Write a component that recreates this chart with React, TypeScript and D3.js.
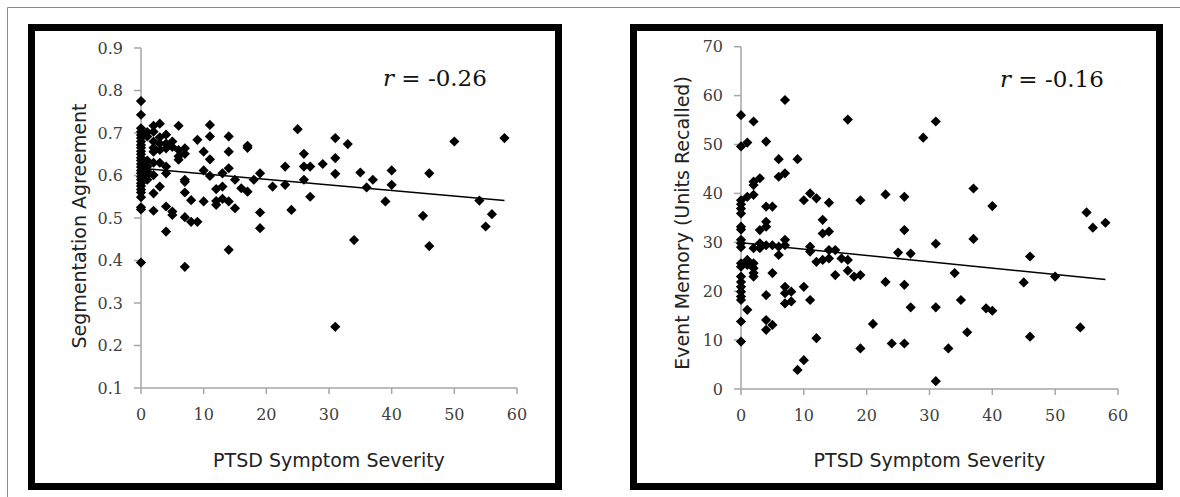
import * as d3 from 'd3';

// PTSD severity (x) and segmentation agreement (y), left panel
const segSeverity = [
  0, 0, 0, 0, 0, 0, 0, 0, 0, 0, 0, 0, 0, 0, 0, 0, 0, 0, 0, 0, 0, 0, 0, 0, 0, 0, 0,
  1, 1, 1, 1, 1, 1, 1,
  2, 2, 2, 2, 2, 2, 2, 2, 2,
  3, 3, 3, 3, 3, 3,
  4, 4, 4, 4, 4, 4, 4,
  5, 5, 5, 5,
  6, 6, 6, 6,
  7, 7, 7, 7, 7, 7, 7,
  8, 8, 9, 9, 10, 10, 10, 11, 11, 11, 11, 12, 12, 12, 13, 13, 13,
  14, 14, 14, 14, 14, 15, 15, 16, 17, 17, 17, 18, 19, 19, 19,
  21, 23, 23, 24, 25, 26, 26, 26, 27, 27, 29, 31, 31, 31, 31,
  33, 34, 35, 36, 37, 39, 40, 40, 45, 46, 46, 50, 54, 55, 56, 58,
];
const segAgreement = [
  0.775, 0.743, 0.711, 0.703, 0.695, 0.688, 0.68, 0.672, 0.665, 0.657, 0.65, 0.642, 0.635, 0.627,
  0.62, 0.612, 0.605, 0.597, 0.59, 0.582, 0.575, 0.567, 0.56, 0.549, 0.525, 0.52, 0.395,
  0.702, 0.692, 0.635, 0.621, 0.61, 0.6, 0.59,
  0.717, 0.703, 0.68, 0.665, 0.656, 0.63, 0.601, 0.558, 0.517,
  0.722, 0.69, 0.675, 0.66, 0.63, 0.574,
  0.696, 0.675, 0.664, 0.621, 0.605, 0.527, 0.468,
  0.68, 0.667, 0.515, 0.507,
  0.717, 0.66, 0.645, 0.637,
  0.664, 0.651, 0.59, 0.585, 0.56, 0.502, 0.385,
  0.542, 0.491, 0.684, 0.491, 0.656, 0.612, 0.539, 0.719, 0.692, 0.638, 0.599, 0.568, 0.54, 0.531,
  0.605, 0.574, 0.545,
  0.692, 0.656, 0.617, 0.539, 0.425, 0.59, 0.523, 0.57, 0.67, 0.665, 0.562, 0.59, 0.605, 0.513, 0.476,
  0.574, 0.621, 0.578, 0.519, 0.709, 0.651, 0.621, 0.59, 0.621, 0.55, 0.627, 0.688, 0.641, 0.604, 0.244,
  0.674, 0.448, 0.607, 0.572, 0.59, 0.539, 0.612, 0.578, 0.505, 0.605, 0.434, 0.68, 0.541, 0.48, 0.509, 0.688,
];

// PTSD severity (x) and event memory units recalled (y), right panel
const memSeverity = [
  0, 0, 0, 0, 0, 0, 0, 0, 0, 0, 0, 0, 0, 0, 0, 0, 0, 0, 0, 0, 0,
  1, 1, 1, 1, 1,
  2, 2, 2, 2, 2, 2, 2, 2, 2,
  3, 3, 3, 3,
  4, 4, 4, 4, 4, 4, 4, 4,
  5, 5, 5, 5,
  6, 6, 6, 6,
  7, 7, 7, 7, 7, 7, 7,
  8, 8, 9, 9, 10, 10, 10, 11, 11, 11, 11, 12, 12, 12, 13, 13, 13,
  14, 14, 14, 14, 15, 15, 16, 17, 17, 17, 18, 19, 19, 19,
  21, 23, 23, 24, 25, 26, 26, 26, 26, 27, 27, 29, 31, 31, 31, 31,
  33, 34, 35, 36, 37, 37, 39, 40, 40, 45, 46, 46, 50, 54, 55, 56, 58,
];
const memRecalled = [
  56.0, 49.6, 38.6, 37.8, 36.9, 35.9, 33.2, 32.6, 30.5, 29.8, 29.0, 25.7, 25.0, 23.0, 21.9, 20.9,
  19.9, 18.9, 18.2, 13.8, 9.7,
  50.4, 39.3, 26.4, 25.4, 16.2,
  54.7, 42.4, 41.7, 39.7, 28.8, 25.7, 24.7, 23.7, 23.0,
  43.1, 32.5, 29.8, 28.8,
  50.6, 37.3, 34.2, 33.2, 29.4, 19.2, 14.1, 12.1,
  37.3, 29.4, 23.7, 13.1,
  47.0, 43.4, 29.1, 27.4,
  59.1, 44.1, 30.5, 29.4, 20.9, 19.6, 17.5,
  19.9, 17.9, 47.0, 3.9, 38.6, 20.9, 5.9, 40.0, 29.1, 28.1, 18.2, 39.0, 26.0, 10.4, 34.6, 31.8, 26.4,
  38.1, 32.2, 28.4, 26.7, 28.4, 23.3, 26.7, 55.1, 26.4, 24.2, 23.0, 38.6, 23.3, 8.3,
  13.3, 39.8, 21.9, 9.3, 27.9, 39.3, 32.5, 21.3, 9.3, 27.7, 16.7, 51.4, 54.7, 29.7, 16.7, 1.6,
  8.3, 23.7, 18.2, 11.6, 41.0, 30.7, 16.5, 37.4, 16.0, 21.8, 27.1, 10.7, 23.0, 12.6, 36.1, 33.0, 34.0,
];

// linear fit end points [x, y]
const segTrend = [[0, 0.617], [58, 0.541]];
const memTrend = [[0, 29.9], [58, 22.4]];

const xTicks = [0, 10, 20, 30, 40, 50, 60];
const segTicks = [0.1, 0.2, 0.3, 0.4, 0.5, 0.6, 0.7, 0.8, 0.9];
const memTicks = [0, 10, 20, 30, 40, 50, 60, 70];

const SERIF = '"DejaVu Serif", serif';
const SANS = '"DejaVu Sans", Verdana, sans-serif';
const AXIS = '#a6a6a6';

const diamond = d3.symbol(d3.symbolSquare, 52)();

function Panel({ frame, plot, xs, ys, yDomain, yTicks, yFormat, trend, yTitle, rText, rPos }) {
  const x = d3.scaleLinear().domain([0, 60]).range([plot.left, plot.right]);
  const y = d3.scaleLinear().domain(yDomain).range([plot.bottom, plot.top]);
  const line = d3.line().x(d => x(d[0])).y(d => y(d[1]));
  return (
    <g>
      <rect x={frame.x} y={frame.y} width={frame.w} height={frame.h} fill="#fff" stroke="#000" strokeWidth={7} />
      {/* axes */}
      <line x1={plot.left} x2={plot.left} y1={y(yDomain[1])} y2={y(yDomain[0])} stroke={AXIS} strokeWidth={1.5} />
      <line x1={plot.left} x2={plot.right} y1={plot.bottom} y2={plot.bottom} stroke={AXIS} strokeWidth={1.5} />
      {yTicks.map(t => (
        <g key={'y' + t}>
          <line x1={plot.left - 7} x2={plot.left} y1={y(t)} y2={y(t)} stroke={AXIS} strokeWidth={1.5} />
          <text x={plot.left - 18} y={y(t)} dy="0.35em" textAnchor="end" fontFamily={SERIF} fontSize={16} fill="#404040">
            {yFormat(t)}
          </text>
        </g>
      ))}
      {xTicks.map(t => (
        <g key={'x' + t}>
          <line x1={x(t)} x2={x(t)} y1={plot.bottom} y2={plot.bottom + 6} stroke={AXIS} strokeWidth={1.5} />
          <text x={x(t)} y={plot.bottom + 26} dy="0.35em" textAnchor="middle" fontFamily={SERIF} fontSize={16} fill="#404040">
            {t}
          </text>
        </g>
      ))}
      {xs.map((v, i) => (
        <path key={i} d={diamond} transform={`translate(${x(v)},${y(ys[i])}) rotate(45)`} fill="#000" />
      ))}
      <path d={line(trend)} fill="none" stroke="#000" strokeWidth={1.5} />
      <text x={(plot.left + plot.right) / 2} y={467} textAnchor="middle" fontFamily={SANS} fontSize={19} fill="#222">
        PTSD Symptom Severity
      </text>
      <text transform={`translate(${yTitle.x},${yTitle.y}) rotate(-90)`} textAnchor="middle" fontFamily={SANS} fontSize={19} fill="#222">
        {yTitle.text}
      </text>
      <text x={rPos.x} y={rPos.y} fontFamily={SERIF} fontSize={23} fill="#111">
        <tspan fontStyle="italic">r</tspan> = {rText}
      </text>
    </g>
  );
}

export default function App() {
  return (
    <svg width={1180} height={497} style={{ position: 'absolute', left: 0, top: 0, background: '#fff' }}>
      <rect x={0} y={0} width={1180} height={497} fill="#fff" />
      <path d="M7.5,497 V7.5 H1180" fill="none" stroke="#8a8a8a" strokeWidth={1} />
      <Panel
        frame={{ x: 31.5, y: 27.5, w: 527, h: 459 }}
        plot={{ left: 141, right: 517, top: 48, bottom: 388 }}
        xs={segSeverity}
        ys={segAgreement}
        yDomain={[0.1, 0.9]}
        yTicks={segTicks}
        yFormat={d3.format('.1f')}
        trend={segTrend}
        yTitle={{ x: 86, y: 226, text: 'Segmentation Agreement' }}
        rText="-0.26"
        rPos={{ x: 383, y: 86 }}
      />
      <Panel
        frame={{ x: 633.5, y: 27.5, w: 526, h: 459 }}
        plot={{ left: 741, right: 1118, top: 46.7, bottom: 389 }}
        xs={memSeverity}
        ys={memRecalled}
        yDomain={[0, 70]}
        yTicks={memTicks}
        yFormat={d3.format('d')}
        trend={memTrend}
        yTitle={{ x: 689, y: 223, text: 'Event Memory (Units Recalled)' }}
        rText="-0.16"
        rPos={{ x: 1000, y: 87 }}
      />
    </svg>
  );
}
